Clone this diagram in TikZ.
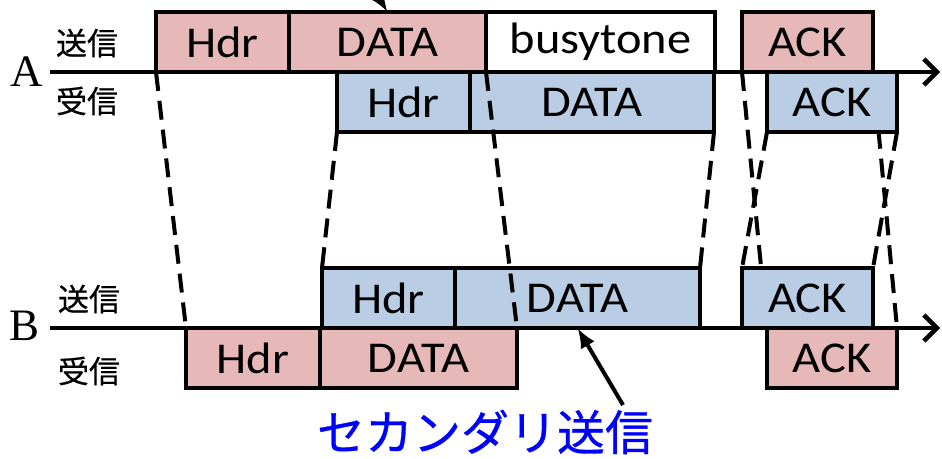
\documentclass[tikz,border=0pt]{standalone}
\usepackage{fontspec}
\setmainfont{Liberation Serif}
\newfontfamily\pktfont[FakeStretch=1.1]{Carlito}
\newfontfamily\jpfont[FakeBold=0.6]{Noto Sans CJK JP}
\usetikzlibrary{arrows.meta,backgrounds}
\definecolor{pktpink}{RGB}{230,184,183}
\definecolor{pktblue}{RGB}{185,205,229}
\begin{document}
\begin{tikzpicture}[x=1pt,y=-1pt,line join=miter,
  pkt/.style={draw,line width=4.5pt,minimum height=60pt,inner sep=0pt,outer sep=0pt,
    font=\pktfont\fontsize{44}{50}\selectfont},
  pinkpkt/.style={pkt,fill=pktpink},
  bluepkt/.style={pkt,fill=pktblue},
  whitepkt/.style={pkt,fill=white},
  sidelbl/.style={font=\jpfont\fontsize{31}{34}\selectfont},
  stnlbl/.style={font=\fontsize{45}{50}\selectfont},
  timeaxis/.style={line width=4.5pt,-{Straight Barb[length=13pt,width=26pt,line width=4.5pt]}},
  slot/.style={line width=4pt,dash pattern=on 19pt off 10pt},
  ptr/.style={line width=4pt,-{Latex[length=20pt,width=16pt]}},
]
\useasboundingbox (0,0) rectangle (942,458);
\clip (0,0) rectangle (942,458);
%%
\coordinate (a_start) at (50,72);
\coordinate (a_end) at (940,72);
\coordinate (b_start) at (50,328);
\coordinate (b_end) at (940,328);
\node (lbl_a) at (27,72) [stnlbl] {A};
\node (lbl_b) at (25,326) [stnlbl] {B};
\node (a_tx) at (87,43) [sidelbl] {送信};
\node (a_rx) at (87,101) [sidelbl] {受信};
\node (b_tx) at (89,299) [sidelbl] {送信};
\node (b_rx) at (89,371) [sidelbl] {受信};
%
\node (a_tx_hdr) at (222.5,42) [pinkpkt,minimum width=133pt] {Hdr};
\node (a_tx_data) at (387.5,42) [pinkpkt,minimum width=197pt] {DATA};
\node (a_tx_busy) at (600.5,42) [whitepkt,minimum width=229pt] {busytone};
\node (a_tx_ack) at (807.5,42) [pinkpkt,minimum width=131pt] {ACK};
\node (a_rx_hdr) at (403.5,102) [bluepkt,minimum width=133pt] {Hdr};
\node (a_rx_data) at (592,102) [bluepkt,minimum width=244pt] {DATA};
\node (a_rx_ack) at (832,102) [bluepkt,minimum width=130pt] {ACK};
\node (b_tx_hdr) at (388.5,298) [bluepkt,minimum width=133pt] {Hdr};
\node (b_tx_data) at (577.5,298) [bluepkt,minimum width=245pt] {DATA};
\node (b_tx_ack) at (807.5,298) [bluepkt,minimum width=131pt] {ACK};
\node (b_rx_hdr) at (253,358) [pinkpkt,minimum width=134pt] {Hdr};
\node (b_rx_data) at (418.5,358) [pinkpkt,minimum width=197pt] {DATA};
\node (b_rx_ack) at (832,358) [pinkpkt,minimum width=130pt] {ACK};
%
\draw [timeaxis] (a_start) -- (a_end);
\draw [timeaxis] (b_start) -- (b_end);
%
\draw [slot] (a_tx_hdr.south west) -- (b_rx_hdr.north west);
\draw [slot] (a_rx_hdr.south west) -- (b_tx_hdr.north west);
\draw [slot] (a_tx_data.south east) -- (b_rx_data.north east);
\draw [slot] (a_rx_data.south east) -- (b_tx_data.north east);
% ACK slots run behind the boxes
\begin{pgfonlayer}{background}
\draw [slot] (a_tx_ack.south west) -- (b_rx_ack.north west);
\draw [slot] (a_rx_ack.south west) -- (b_tx_ack.north west);
\draw [slot] (a_rx_ack.south east) -- (b_tx_ack.north east);
\draw [slot] (a_tx_ack.south east) -- (b_rx_ack.north east);
\end{pgfonlayer}
%
\node (second_tx) at (485,432) [font=\jpfont\fontsize{48}{52}\selectfont,text=blue] {セカンダリ送信};
\coordinate (second_tail) at (623,405);
\coordinate (top_tail) at (365,-25);
\draw [ptr] (second_tail) -- (b_tx_data.south);
\draw [ptr] (top_tail) -- (a_tx_data.north);
%
\end{tikzpicture}
\end{document}
